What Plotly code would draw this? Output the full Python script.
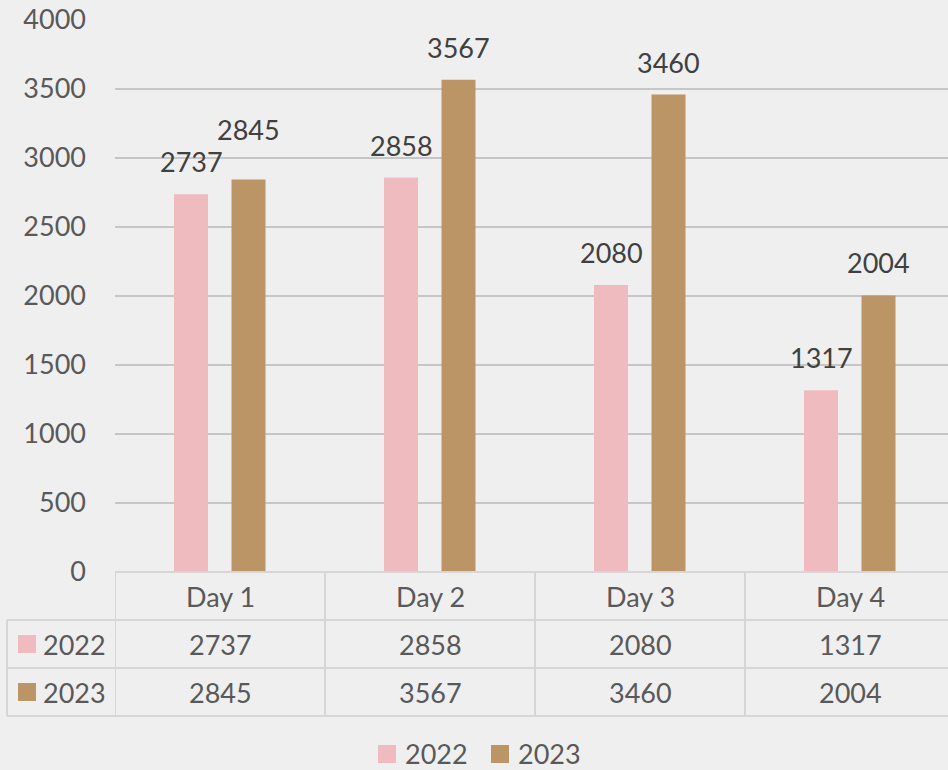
import plotly.graph_objects as go

# ---- data ----
categories = ["Day 1", "Day 2", "Day 3", "Day 4"]
series_names = ["2022", "2023"]
values_2022 = [2737, 2858, 2080, 1317]
values_2023 = [2845, 3567, 3460, 2004]
y_ticks = [0, 500, 1000, 1500, 2000, 2500, 3000, 3500, 4000]

# ---- style ----
colors = {"2022": "#EFBBBF", "2023": "#BB9566"}
FONT = "Lato"
FS = 27
TXT_DARK = "#404040"
TXT_TABLE = "#595959"
GRID = "#c6c6c6"
TABLE_LINE = "#d6d6d6"
BG = "#efefef"

W, H = 948, 770
ML, MR, MT, MB = 115, 0, 20, 770 - 572
plot_w = W - ML - MR
plot_h = H - MT - MB
cat_px = 210.0
bar_w = 34 / cat_px
offsets = {"2022": -46 / cat_px, "2023": 11.5 / cat_px}
label_lift = {("2023", 0): 17}  # extra lift where labels would collide

def py(px):  # pixel y -> paper y
    return (MT + plot_h - px) / plot_h

def px_x(px):  # pixel x -> paper x
    return (px - ML) / plot_w

xs = list(range(len(categories)))
series_vals = {"2022": values_2022, "2023": values_2023}

fig = go.Figure()
for name in series_names:
    fig.add_trace(go.Bar(
        x=xs, y=series_vals[name], name=name,
        width=bar_w, offset=offsets[name],
        marker=dict(color=colors[name], line=dict(width=0)),
        showlegend=False, hoverinfo="x+y+name",
    ))

annotations = []
# data labels
for name in series_names:
    for i, v in enumerate(series_vals[name]):
        annotations.append(dict(
            x=i + offsets[name] + bar_w / 2, y=v, xref="x", yref="y",
            text=str(v), showarrow=False, yanchor="bottom",
            yshift=14 + label_lift.get((name, i), 0),
            font=dict(family=FONT, size=FS, color=TXT_DARK),
        ))

# table: header row, series rows
row_lines_px = [572, 620, 668, 716]
for i, c in enumerate(categories):
    annotations.append(dict(
        x=i, y=py(596), xref="x", yref="paper", text=c, showarrow=False,
        font=dict(family=FONT, size=FS, color=TXT_TABLE), yanchor="middle"))
row_centers = {"2022": 644, "2023": 692}
for name in series_names:
    for i, v in enumerate(series_vals[name]):
        annotations.append(dict(
            x=i, y=py(row_centers[name]), xref="x", yref="paper", text=str(v),
            showarrow=False, font=dict(family=FONT, size=FS, color=TXT_TABLE),
            yanchor="middle"))
    annotations.append(dict(
        x=px_x(108), y=py(row_centers[name]), xref="paper", yref="paper",
        text=name, showarrow=False, xanchor="right", yanchor="middle",
        font=dict(family=FONT, size=FS, color=TXT_TABLE)))

shapes = []
# table horizontal lines
shapes.append(dict(type="line", xref="paper", yref="paper", x0=0, x1=1,
                   y0=py(572), y1=py(572), line=dict(color=TABLE_LINE, width=2)))
for yp in row_lines_px[1:]:
    shapes.append(dict(type="line", xref="paper", yref="paper", x0=px_x(7), x1=1,
                       y0=py(yp), y1=py(yp), line=dict(color=TABLE_LINE, width=2)))
# table vertical lines
shapes.append(dict(type="line", xref="paper", yref="paper", x0=px_x(7), x1=px_x(7),
                   y0=py(620), y1=py(716), line=dict(color=TABLE_LINE, width=2)))
for b in [-0.5, 0.5, 1.5, 2.5]:
    shapes.append(dict(type="line", xref="x", yref="paper", x0=b, x1=b,
                       y0=py(572), y1=py(716), line=dict(color=TABLE_LINE, width=2)))
# legend keys in table
for name in series_names:
    cy = row_centers[name]
    shapes.append(dict(type="rect", xref="paper", yref="paper",
                       x0=px_x(18), x1=px_x(36), y0=py(cy + 9), y1=py(cy - 9),
                       fillcolor=colors[name], line=dict(width=0)))

# bottom legend
legend_items = [("2022", 378), ("2023", 491)]
LEG_CY = 753
for name, lx in legend_items:
    shapes.append(dict(type="rect", xref="paper", yref="paper",
                       x0=px_x(lx), x1=px_x(lx + 18), y0=py(LEG_CY + 10), y1=py(LEG_CY - 8),
                       fillcolor=colors[name], line=dict(width=0)))
    annotations.append(dict(
        x=px_x(lx + 25), y=py(LEG_CY), xref="paper", yref="paper", text=name,
        showarrow=False, xanchor="left", yanchor="middle",
        font=dict(family=FONT, size=FS, color=TXT_TABLE)))

fig.update_layout(
    width=W, height=H,
    margin=dict(l=ML, r=MR, t=MT, b=MB, pad=0),
    paper_bgcolor=BG, plot_bgcolor="rgba(0,0,0,0)",
    barmode="overlay",
    xaxis=dict(range=[-0.5, -0.5 + plot_w / cat_px], showticklabels=False,
               showgrid=False, zeroline=False, showline=False, ticks=""),
    yaxis=dict(range=[0, 4000], tickvals=y_ticks,
               ticktext=[str(t) for t in y_ticks],
               showgrid=True, gridcolor=GRID, gridwidth=2,
               zeroline=False, showline=False, ticks="",
               ticklabelstandoff=28,
               tickfont=dict(family=FONT, size=FS, color=TXT_TABLE)),
    annotations=annotations, shapes=shapes,
    showlegend=False,
)

fig.write_html(
    "out.html",
    config={"displayModeBar": False},
    post_script="document.body.style.margin='0';document.body.style.background='" + BG + "';",
)
